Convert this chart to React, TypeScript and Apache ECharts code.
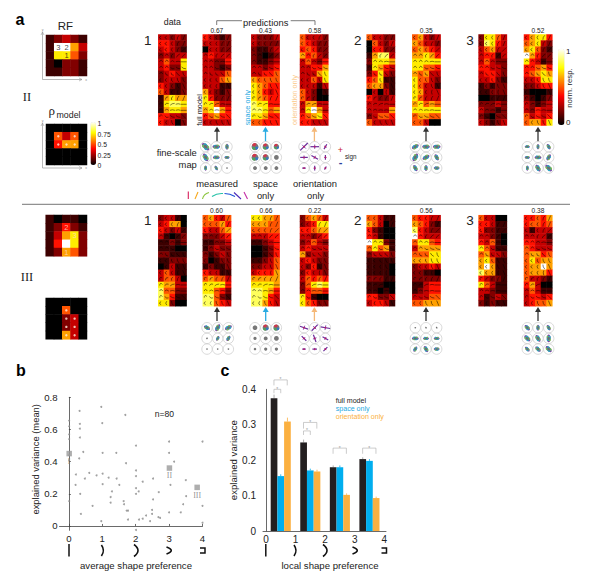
import React, { useEffect, useRef } from "react";
import * as echarts from "echarts";

// ---------- heat-map cell levels (digits 0-9; see levelValue)
const levelValue = [0, 0.09, 0.19, 0.29, 0.4, 0.5, 0.61, 0.72, 0.84, 1];
const rfII = ["12321", "19963", "17752", "10221", "11221"];
const rhoII = ["00000", "05350", "04660", "00000", "00000"];
const rfIII = ["10110", "12421", "13672", "14972", "12652"];
const rhoIII = ["00000", "00500", "00230", "00230", "00630"];

const II1data = ["33232", "44322", "34321", "23233", "35337", "34227", "23433", "23332", "43212", "53112", "16766", "17887", "16776", "44332", "43302"];
const II1full = ["43212", "33322", "03322", "34333", "33224", "33212", "33335", "33356", "33311", "63212", "74222", "77533", "67964", "45644", "33333"];
const II1space = ["32223", "32222", "21123", "21012", "21123", "33234", "33445", "65555", "76544", "76434", "76544", "87744", "88756", "77644", "55444"];
const II1orient = ["53332", "54322", "45422", "64532", "35324", "33446", "33367", "33537", "33313", "53201", "53200", "36633", "37963", "45674", "44333"];
const II2data = ["53322", "05323", "04422", "16883", "27776", "17643", "24732", "45711", "56621", "03031", "43223", "33333", "33336", "23554", "53333"];
const II2full = ["56323", "65332", "56543", "66764", "77777", "77554", "65633", "75532", "75331", "76333", "75333", "67565", "77777", "56655", "55300"];
const II3data = ["27753", "28743", "35633", "34413", "35322", "44332", "34432", "33421", "12122", "11222", "00111", "22232", "32212", "21022", "32123"];
const II3full = ["46774", "56732", "67521", "96422", "74312", "44564", "45676", "33477", "22344", "10001", "21012", "32123", "32433", "53434", "56647"];

const III1data = ["23310", "34660", "43231", "31012", "11212", "11100", "22111", "11222", "01311", "35311", "35530", "76633", "85522", "86411", "77200"];
const III1full = ["56435", "55564", "43356", "22234", "11223", "12322", "21232", "20122", "12112", "43311", "56553", "77774", "77542", "88521", "88543"];
const III1space = ["77665", "66655", "55555", "33344", "11234", "00124", "00124", "11235", "22335", "34446", "66666", "77776", "88764", "88743", "88643"];
const III1orient = ["25653", "23477", "44566", "33234", "23532", "34333", "62332", "34322", "32412", "24332", "35454", "25787", "24554", "74100", "75422"];
const III2data = ["55311", "65301", "42100", "43100", "97721", "57561", "23332", "11111", "11110", "11110", "22211", "11100", "11010", "44223", "34431"];
const III2full = ["54433", "65421", "84322", "94333", "57754", "36666", "55577", "66677", "23343", "22110", "22222", "11344", "12344", "33355", "55666"];
const III3data = ["53300", "44311", "42211", "33210", "43510", "75311", "56332", "67511", "69611", "86611", "43221", "75311", "33211", "31232", "21211"];
const III3full = ["44546", "45545", "31333", "33331", "44332", "54333", "56645", "57566", "56696", "56664", "53321", "46300", "35311", "34434", "34556"];

// ---------- stimulus glyphs shared by all the panels (chord angle in 22.5 degree steps, bend 0-3)
const stimAngle = ["44433", "44433", "54432", "00322", "00000", "00777", "06665", "44555", "44455", "44445", "22333", "11100", "00000", "17776", "44555"];
const stimBend = ["33210", "33210", "33210", "33211", "33210", "33211", "32211", "33211", "33210", "33210", "32210", "32110", "32110", "32110", "32110"];

// ---------- fine-scale maps: blob size and orientation per sub-unit
const fmII1m = [9, 7, 5, 8, 6, 4, 4, 4, 2];
const faII1m = [135, 0, 90, 120, 0, 0, 90, 120, 0];
const fmII1s = [7, 6, 5, 7, 6, 4, 3, 3, 3];
const fmII1o = [9, 7, 4, 6, 6, 3, 2, 3, 2];
const faII1o = [135, 0, 120, 0, 30, 90, 0, 90, 120];
const fmII2 = [7, 7, 7, 8, 7, 6, 6, 5, 5];
const faII2 = [30, 0, 0, 60, 30, 120, 120, 90, 0];
const fmII3 = [4, 4, 5, 4, 6, 6, 4, 7, 8];
const faII3 = [0, 90, 120, 0, 0, 60, 90, 120, 135];
const fmIII1m = [6, 7, 7, 3, 4, 5, 1, 2, 2];
const faIII1m = [150, 60, 30, 45, 60, 60, 0, 0, 0];
const fmIII1s = [4, 6, 6, 2, 3, 4, 1, 2, 2];
const fmIII1o = [7, 7, 8, 5, 6, 5, 2, 3, 4];
const faIII1o = [20, 135, 10, 45, 70, 30, 0, 0, 135];
const fmIII2 = [1, 3, 3, 6, 5, 5, 5, 6, 5];
const faIII2 = [0, 120, 135, 0, 0, 0, 60, 120, 0];
const fmIII3 = [6, 5, 5, 7, 7, 7, 5, 6, 7];
const faIII3 = [135, 90, 120, 135, 120, 90, 135, 135, 135];

// ---------- panel b
const scatterPoints = [
  [0.01, 0.655], [0.01, 0.62], [0.01, 0.57], [0.01, 0.54], [0.01, 0.44], [0.01, 0.41], [0.01, 0.155],
  [0.32, 0.715], [0.33, 0.635], [0.33, 0.605], [0.33, 0.55], [0.31, 0.42], [0.43, 0.46], [0.21, 0.32], [0.2, 0.255],
  [0.34, 0.2], [0.36, 0.075], [0.61, 0.33], [0.48, 0.295], [0.71, 0.125], [0.83, 0.315], [0.97, 0.74], [1.0, 0.64],
  [1.01, 0.455], [1.01, 0.325], [1.01, 0.26], [0.97, 0.03], [1.19, 0.3], [1.43, 0.295], [1.42, 0.455], [1.51, 0.255],
  [1.29, 0.215], [1.25, 0.18], [1.25, 0.145], [1.69, 0.69], [1.71, 0.39], [1.64, 0.155], [1.65, 0.135], [1.73, 0.095],
  [1.77, 0.095], [1.77, 0.04], [2.01, 0.5], [2.01, 0.345], [2.01, 0.31], [2.01, 0.235], [2.01, 0.2], [2.09, 0.215],
  [2.21, 0.275], [2.1, 0.04], [2.21, 0.045], [2.31, 0.065], [2.43, 0.03], [2.49, 0.075], [2.49, 0.1], [2.52, 0.165],
  [2.52, 0.295], [2.69, 0.21], [2.68, 0.055], [2.73, 0.05], [3.0, 0.525], [3.0, 0.455], [3.04, 0.255], [3.0, 0.085],
  [3.15, 0.4], [3.35, 0.085], [3.5, 0.285], [3.42, 0.135], [3.51, 0.185], [4.0, 0.525], [4.0, 0.125], [4.0, 0.02], [2.01, -0.025],
];
const meanPoints = [[0.01, 0.45], [3.01, 0.36], [3.84, 0.24]];
const meanLabels = ["I", "II", "III"];
const shapeTicks = [0, 1, 2, 3, 4];

// ---------- panel c
const barPositions = [0.5, 1.5, 2.5, 3.5];
const fullModel = [0.375, 0.25, 0.18, 0.203];
const spaceOnly = [0.155, 0.171, 0.18, 0.198];
const orientationOnly = [0.309, 0.168, 0.102, 0.093];
const fullErr = [0.385, 0.258, 0.185, 0.208];
const spaceErr = [0.16, 0.176, 0.185, 0.203];
const orientErr = [0.32, 0.173, 0.106, 0.097];
// x from, x to, y of the bar, y of the drop
const brackets = [
  [0.27, 0.72, 0.4265, 0.411],
  [0.27, 0.5, 0.4, 0.389],
  [1.27, 1.72, 0.3065, 0.289],
  [1.27, 1.5, 0.2825, 0.271],
  [2.27, 2.72, 0.234, 0.218],
  [3.27, 3.72, 0.234, 0.218],
];

const FONT = "'Liberation Sans', Arial, sans-serif";
const SERIF = "'Liberation Serif', 'Times New Roman', serif";
const hot = ["#000000", "#550000", "#aa0000", "#ff0000", "#ff5500", "#ffaa00", "#ffff00", "#ffff80", "#ffffff"];
const BLACK = "#231f20";
const BLUE = "#00aeef";
const ORANGE = "#fbb040";

function txt(x: number, y: number, text: string, fontSize: number, o: any = {}) {
  const a = o.align || "center";
  return {
    type: "text",
    x,
    y,
    rotation: o.rotation || 0,
    silent: true,
    style: {
      text,
      fontSize,
      fontFamily: o.family || FONT,
      fontWeight: o.weight || "normal",
      fill: o.fill || "#222",
      align: a,
      textAlign: a,
      verticalAlign: "middle",
      textVerticalAlign: "middle",
    },
  };
}
const seg = (x1: number, y1: number, x2: number, y2: number, stroke = "#555", lineWidth = 0.8) => ({
  type: "line",
  silent: true,
  shape: { x1, y1, x2, y2 },
  style: { stroke, lineWidth },
});
const poly = (points: number[][], stroke = "#555", lineWidth = 0.8) => ({
  type: "polyline",
  silent: true,
  shape: { points },
  style: { stroke, lineWidth, fill: "none" },
});
const curve = (x1: number, y1: number, x2: number, y2: number, cx: number, cy: number, stroke = "#111", lineWidth = 1.6) => ({
  type: "bezierCurve",
  silent: true,
  shape: { x1, y1, x2, y2, cpx1: cx, cpy1: cy },
  style: { stroke, lineWidth, fill: "none" },
});
function arrow(x: number, yTop: number, yBottom: number, color: string) {
  return [
    seg(x, yTop + 4, x, yBottom, color, 1.3),
    { type: "polygon", silent: true, shape: { points: [[x, yTop], [x - 3, yTop + 5], [x + 3, yTop + 5]] }, style: { fill: color } },
  ];
}
function shapeGlyphs(xs: number[]) {
  return [
    seg(xs[0], 544, xs[0], 556.5, "#111", 1.5),
    curve(xs[1] - 1, 545, xs[1] - 1, 556, xs[1] + 3, 550.5),
    curve(xs[2] - 2, 544.5, xs[2] - 2, 556.5, xs[2] + 6, 550.5),
    curve(xs[3] - 2.5, 547, xs[3] - 2.5, 554, xs[3] + 7, 550.5),
    poly([[xs[4] - 2.5, 548], [xs[4] + 2.5, 548], [xs[4] + 2.5, 553], [xs[4] - 2.5, 553]], "#111", 1.5),
  ];
}

const parse = (rows: string[]) => {
  const out: number[][] = [];
  rows.forEach((r, row) => r.split("").forEach((d, col) => out.push([col, row, levelValue[Number(d)]])));
  return out;
};

const panelLayout = {
  colX: [158.3, 202.8, 251.3, 300, 366.7, 412.3, 478.6, 524],
  II: { top: 34.5, h: 91 },
  III: { top: 215.2, h: 91 },
};

export default function App() {
  const ref = useRef<HTMLDivElement>(null);
  useEffect(() => {
    const chart = echarts.init(ref.current!, undefined, { renderer: "svg" });
    const grid: any[] = [];
    const xAxis: any[] = [];
    const yAxis: any[] = [];
    const series: any[] = [];
    const normIdx: number[] = [];
    const rhoIdx: number[] = [];

    const addGrid = (left: number, top: number, width: number, height: number, x: any, y: any) => {
      grid.push({ left, top, width, height, containLabel: false });
      xAxis.push({ gridIndex: grid.length - 1, ...x });
      yAxis.push({ gridIndex: grid.length - 1, ...y });
      return grid.length - 1;
    };

    const heat = (rows: string[], left: number, top: number, w: number, h: number, bucket: number[]) => {
      const nCols = rows[0].length;
      const cats = (n: number) => Array.from({ length: n }, (_, i) => i);
      const g = addGrid(left, top, w, h,
        { type: "category", data: cats(nCols), show: false },
        { type: "category", data: cats(rows.length), show: false, inverse: true });
      bucket.push(series.length);
      series.push({
        type: "heatmap",
        xAxisIndex: g,
        yAxisIndex: g,
        data: parse(rows),
        silent: true,
        itemStyle: { borderWidth: 0 },
      });
      return g;
    };

    const glyphData: number[][] = [];
    stimAngle.forEach((r, row) => r.split("").forEach((_, col) => glyphData.push([col, row])));
    const addGlyphs = (g: number) => {
      series.push({
        type: "custom",
        xAxisIndex: g,
        yAxisIndex: g,
        silent: true,
        data: glyphData,
        encode: { x: 0, y: 1 },
        renderItem: (_p: any, api: any) => {
          const col = api.value(0);
          const row = api.value(1);
          const c = api.coord([col, row]);
          const ang = (Number(stimAngle[row][col]) * 22.5 * Math.PI) / 180;
          const bend = Number(stimBend[row][col]);
          const len = 1.5 + (3 - bend) * 0.45;
          const dx = Math.cos(ang) * len;
          const dy = -Math.sin(ang) * len;
          const nx = Math.sin(ang) * bend * 1.1;
          const ny = Math.cos(ang) * bend * 1.1;
          return {
            type: "bezierCurve",
            shape: { x1: c[0] - dx, y1: c[1] - dy, x2: c[0] + dx, y2: c[1] + dy, cpx1: c[0] - nx, cpy1: c[1] - ny },
            style: { stroke: "#000", lineWidth: 0.5, fill: "none" },
          };
        },
      });
    };

    // ----- small RF / rho maps
    const gRFII = heat(rfII, 46, 35, 41, 41, normIdx);
    const gRhoII = heat(rhoII, 46, 124, 41, 41, rhoIdx);
    const gRFIII = heat(rfIII, 45.7, 215, 41.3, 41.3, normIdx);
    const gRhoIII = heat(rhoIII, 45.7, 298, 41.3, 41.3, normIdx);

    const overlay = (g: number, items: any[], fill: string) =>
      series.push({
        type: "scatter",
        xAxisIndex: g,
        yAxisIndex: g,
        silent: true,
        symbolSize: 0.01,
        data: items,
        label: { show: true, position: "inside", formatter: (p: any) => p.data[2], fontSize: 7.5, color: fill, fontFamily: FONT },
      });
    overlay(gRFII, [[1, 1, "3"], [2, 1, "2"], [2, 2, "1"]], "#111");
    overlay(gRFIII, [[2, 1, "2"], [3, 2, "3"], [2, 4, "1"]], "#ffd8c8");
    const dots = (g: number, items: number[][]) =>
      series.push({
        type: "scatter",
        xAxisIndex: g,
        yAxisIndex: g,
        silent: true,
        symbolSize: 2.4,
        itemStyle: { color: "#ffeedd" },
        data: items,
      });
    dots(gRhoII, [[1, 1], [3, 1], [1, 2], [2, 2], [3, 2]]);
    dots(gRhoIII, [[2, 1], [2, 2], [3, 2], [2, 3], [3, 3], [2, 4], [3, 4]]);

    // ----- main response panels
    const X = panelLayout.colX;
    const mainII: [string[], number][] = [
      [II1data, 0], [II1full, 1], [II1space, 2], [II1orient, 3], [II2data, 4], [II2full, 5], [II3data, 6], [II3full, 7],
    ];
    const mainIII: [string[], number][] = [
      [III1data, 0], [III1full, 1], [III1space, 2], [III1orient, 3], [III2data, 4], [III2full, 5], [III3data, 6], [III3full, 7],
    ];
    mainII.forEach(([rows, c]) => addGlyphs(heat(rows, X[c], panelLayout.II.top, 28.3, panelLayout.II.h, normIdx)));
    mainIII.forEach(([rows, c]) => addGlyphs(heat(rows, X[c], panelLayout.III.top, 28.3, panelLayout.III.h, normIdx)));

    // ----- fine-scale maps
    const fineMap = (cx0: number, cy0: number, sizes: number[], angles: number[] | null, kind: string) => {
      const step = 10.7;
      const g = addGrid(cx0 - step / 2, cy0 - step / 2, step * 3, step * 3,
        { type: "value", min: -0.5, max: 2.5, show: false },
        { type: "value", min: -0.5, max: 2.5, show: false, inverse: true });
      series.push({
        type: "custom",
        xAxisIndex: g,
        yAxisIndex: g,
        silent: true,
        clip: false,
        data: sizes.map((s, i) => [i % 3, Math.floor(i / 3), s, angles ? angles[i] : 0]),
        encode: { x: 0, y: 1 },
        renderItem: (_p: any, api: any) => {
          const c = api.coord([api.value(0), api.value(1)]);
          const s = api.value(2);
          const a = (api.value(3) * Math.PI) / 180;
          const kids: any[] = [
            { type: "circle", shape: { cx: c[0], cy: c[1], r: 5.2 }, style: { fill: "#fff", stroke: "#c8c8c8", lineWidth: 0.7 } },
          ];
          const ell = (rx: number, ry: number, fill: string, rot: number) => ({
            type: "ellipse",
            x: c[0],
            y: c[1],
            rotation: rot,
            shape: { cx: 0, cy: 0, rx, ry },
            style: { fill },
          });
          if (kind === "m") {
            const rx = 0.9 + s * 0.42;
            if (s > 3) {
              kids.push(ell(rx, rx * 0.5, "#7b4aa8", a));
              kids.push(ell(rx * 0.8, rx * 0.42, "#7fbf4a", a + 0.55));
              kids.push(ell(rx * 0.75, rx * 0.42, "#28a7c4", a - 0.55));
            }
            kids.push(ell(Math.max(0.9, rx * 0.45), Math.max(0.8, rx * 0.32), "#6d6d6d", a));
          } else if (kind === "s") {
            const r = 0.9 + s * 0.36;
            kids.push({ type: "circle", shape: { cx: c[0], cy: c[1], r }, style: { fill: "#777" } });
            if (s >= 5) {
              kids.push({ type: "sector", shape: { cx: c[0], cy: c[1], r, startAngle: 3.6, endAngle: 5.2 }, style: { fill: "#d3364a" } });
              kids.push({ type: "sector", shape: { cx: c[0], cy: c[1], r, startAngle: 0, endAngle: 1.2 }, style: { fill: "#2f79c9" } });
              kids.push({ type: "sector", shape: { cx: c[0], cy: c[1], r, startAngle: 1.6, endAngle: 2.8 }, style: { fill: "#4aa75a" } });
            }
          } else {
            const l = 0.8 + s * 0.5;
            const dx = Math.cos(a) * l;
            const dy = Math.sin(a) * l;
            kids.push({ type: "line", shape: { x1: c[0] - dx, y1: c[1] - dy, x2: c[0] + dx, y2: c[1] + dy }, style: { stroke: "#6a2c9c", lineWidth: 1.2 } });
            kids.push({ type: "line", shape: { x1: c[0] + dy * 0.5, y1: c[1] - dx * 0.5, x2: c[0] - dy * 0.5, y2: c[1] + dx * 0.5 }, style: { stroke: "#7b3fb0", lineWidth: 0.9 } });
            kids.push({ type: "circle", shape: { cx: c[0], cy: c[1], r: 0.8 }, style: { fill: "#c2185b" } });
          }
          return { type: "group", children: kids };
        },
      });
    };
    fineMap(205.6, 146.7, fmII1m, faII1m, "m");
    fineMap(255, 146.7, fmII1s, null, "s");
    fineMap(304, 146.7, fmII1o, faII1o, "o");
    fineMap(415.3, 146.7, fmII2, faII2, "m");
    fineMap(527.3, 146.7, fmII3, faII3, "m");
    fineMap(207, 327.7, fmIII1m, faIII1m, "m");
    fineMap(255, 327.7, fmIII1s, null, "s");
    fineMap(304, 327.7, fmIII1o, faIII1o, "o");
    fineMap(415.3, 327.7, fmIII2, faIII2, "m");
    fineMap(527.3, 327.7, fmIII3, faIII3, "m");

    // ----- panel b
    const axisCommon = {
      axisLine: { show: true, lineStyle: { color: "#444", width: 0.8 } },
      axisTick: { show: true, inside: true, length: 2, lineStyle: { color: "#444", width: 0.8 } },
      splitLine: { show: false },
    };
    const gB = addGrid(59.5, 397.3, 143, 133,
      {
        type: "value", min: -0.28, max: 4, ...axisCommon,
        axisTick: { ...axisCommon.axisTick, customValues: shapeTicks },
        axisLabel: { customValues: shapeTicks, fontSize: 9.6, color: "#222", margin: 3, fontFamily: FONT, showMinLabel: true, showMaxLabel: true },
        name: "average shape preference", nameLocation: "middle", nameGap: 30, nameTextStyle: { fontSize: 9.6, color: "#222", fontFamily: FONT, padding: [0, 0, 0, 10] },
      },
      {
        type: "value", min: -0.027, max: 0.8, ...axisCommon,
        axisTick: { ...axisCommon.axisTick, customValues: [0, 0.2, 0.4, 0.6, 0.8] },
        axisLabel: { customValues: [0, 0.2, 0.4, 0.6, 0.8], formatter: (v: number) => (v === 0 ? "0" : v.toFixed(1)), fontSize: 9.6, color: "#222", margin: 2, fontFamily: FONT },
        name: "explained variance (mean)", nameLocation: "middle", nameGap: 20, nameTextStyle: { fontSize: 9.4, color: "#222", fontFamily: FONT, padding: [0, 0, 0, 9] },
      });
    series.push({ type: "scatter", xAxisIndex: gB, yAxisIndex: gB, silent: true, symbolSize: 2, itemStyle: { color: "#8a8a8a" }, data: scatterPoints, clip: false });
    series.push({
      type: "scatter", xAxisIndex: gB, yAxisIndex: gB, silent: true, symbol: "rect", symbolSize: 5.5, itemStyle: { color: "#9a9a9a" },
      data: meanPoints.map((p, i) => ({ value: p, name: meanLabels[i] })),
      label: { show: true, position: "bottom", distance: 1, formatter: (p: any) => p.name, fontSize: 8, color: "#777", fontFamily: SERIF },
    });

    // ----- panel c
    const gC = addGrid(263, 389.3, 123, 141.7,
      {
        type: "value", min: -0.1, max: 4.06, ...axisCommon,
        axisTick: { show: false },
        axisLabel: { customValues: shapeTicks, fontSize: 10, color: "#222", margin: 3, fontFamily: FONT },
        name: "local shape preference", nameLocation: "middle", nameGap: 29, nameTextStyle: { fontSize: 9.6, color: "#222", fontFamily: FONT, padding: [0, 0, 0, 11] },
      },
      {
        type: "value", min: 0, max: 0.4, interval: 0.1, offset: 6, ...axisCommon,
        axisTick: { show: false },
        axisLabel: { formatter: (v: number) => (v === 0 ? "0" : v.toFixed(1)), fontSize: 10, color: "#222", margin: 1, fontFamily: FONT },
        name: "explained variance", nameLocation: "middle", nameGap: 17, nameTextStyle: { fontSize: 9.6, color: "#222", fontFamily: FONT },
      });
    const barSeries = (vals: number[], color: string) => ({
      type: "bar", xAxisIndex: gC, yAxisIndex: gC, silent: true, barWidth: 6.7, barGap: "0%",
      itemStyle: { color }, data: barPositions.map((x, i) => [x, vals[i]]),
    });
    series.push(barSeries(fullModel, BLACK), barSeries(spaceOnly, BLUE), barSeries(orientationOnly, ORANGE));
    const errSeries = (tops: number[], vals: number[], color: string, shift: number) => ({
      type: "custom", xAxisIndex: gC, yAxisIndex: gC, silent: true, clip: false,
      data: barPositions.map((x, i) => [x, vals[i], tops[i]]),
      encode: { x: 0, y: 1 },
      renderItem: (_p: any, api: any) => {
        const a = api.coord([api.value(0), api.value(1)]);
        const b = api.coord([api.value(0), api.value(2)]);
        return { type: "line", shape: { x1: a[0] + shift, y1: a[1], x2: a[0] + shift, y2: b[1] }, style: { stroke: color, lineWidth: 0.8 } };
      },
    });
    series.push(errSeries(fullErr, fullModel, "#999", -6.7), errSeries(spaceErr, spaceOnly, BLUE, 0), errSeries(orientErr, orientationOnly, ORANGE, 6.7));
    series.push({
      type: "custom", xAxisIndex: gC, yAxisIndex: gC, silent: true, clip: false,
      data: brackets,
      encode: { x: [0, 1], y: [2, 3] },
      renderItem: (_p: any, api: any) => {
        const l = api.coord([api.value(0), api.value(2)]);
        const r = api.coord([api.value(1), api.value(2)]);
        const d = api.coord([api.value(0), api.value(3)]);
        return {
          type: "group",
          children: [
            { type: "polyline", shape: { points: [[l[0], d[1]], [l[0], l[1]], [r[0], l[1]], [r[0], d[1]]] }, style: { stroke: "#aaa", lineWidth: 0.6, fill: "none" } },
            { type: "text", x: (l[0] + r[0]) / 2, y: l[1] - 0.5, style: { text: "*", fontSize: 5, fill: "#999", align: "center", textAlign: "center", verticalAlign: "middle", textVerticalAlign: "middle", fontFamily: FONT } },
          ],
        };
      },
    });

    // ----- free texts and decoration
    const graphic: any[] = [
      txt(20, 19, "a", 16, { weight: "bold", fill: "#000" }),
      txt(21, 370, "b", 16, { weight: "bold", fill: "#000" }),
      txt(225, 370, "c", 16, { weight: "bold", fill: "#000" }),
      txt(65.3, 25.5, "RF", 11.5),
      txt(27, 96.7, "II", 12.5, { family: SERIF }),
      txt(27, 276.7, "III", 12.5, { family: SERIF }),
      txt(51.7, 110, "ρ", 13, { family: SERIF }),
      txt(68.5, 114.5, "model", 8.8),
      // RF axes
      poly([[42.5, 32], [42.5, 79.5], [82, 79.5]], "#999", 0.7),
      poly([[41, 35], [42.5, 32], [44, 35]], "#999", 0.6),
      poly([[79, 78], [82, 79.5], [79, 81]], "#999", 0.6),
      txt(86, 79.5, "x", 3.5, { fill: "#888" }),
      txt(42.5, 29.5, "y", 3.5, { fill: "#888" }),
      poly([[42.5, 123], [42.5, 168], [82, 168]], "#999", 0.7),
      poly([[41, 126], [42.5, 123], [44, 126]], "#999", 0.6),
      poly([[79, 166.5], [82, 168], [79, 169.5]], "#999", 0.6),
      txt(86, 168, "x", 3.5, { fill: "#888" }),
      txt(42.5, 120.7, "y", 3.5, { fill: "#888" }),
      // colour bar labels
      ...[["1", 123.5], ["0.75", 134], ["0.5", 144.7], ["0.25", 155], ["0", 165]].map(([s, y]) => txt(97.5, y as number, s as string, 6.8, { align: "left" })),
      txt(566, 51, "1", 8, { align: "left" }),
      txt(566, 122, "0", 8, { align: "left" }),
      txt(569.5, 88, "norm. resp.", 7.8, { rotation: Math.PI / 2 }),
      // heads
      txt(172.4, 22, "data", 8.8),
      txt(265.7, 22, "predictions", 9.4),
      poly([[216.7, 25], [216.7, 20.7], [242, 20.7]], "#444", 0.7),
      poly([[290.7, 20.7], [315, 20.7], [315, 25]], "#444", 0.7),
      ...[["0.67", 216.8], ["0.43", 265.5], ["0.58", 314.7], ["0.35", 426.2], ["0.52", 538]].map(([s, x]) => txt(x as number, 30.5, s as string, 6.6)),
      ...[["0.60", 216.4], ["0.66", 266], ["0.22", 314.7], ["0.56", 426.2], ["0.38", 538]].map(([s, x]) => txt(x as number, 210.7, s as string, 6.6)),
      ...[["1", 147.7], ["2", 357.7], ["3", 470]].flatMap(([s, x]) => [txt(x as number, 40.5, s as string, 13.5), txt(x as number, 220.7, s as string, 13.5)]),
      txt(199, 110, "full model", 7.4, { rotation: Math.PI / 2 }),
      txt(247, 107.7, "space only", 7.4, { rotation: Math.PI / 2, fill: "#29abe2" }),
      txt(294.7, 100, "orientation only", 7.4, { rotation: Math.PI / 2, fill: "#fbc98a" }),
      ...arrow(217, 126.7, 141.5, "#333"),
      ...arrow(265.5, 126.7, 141.5, "#29abe2"),
      ...arrow(314.4, 126.7, 141.5, "#f5b878"),
      ...arrow(426, 126.7, 141.5, "#333"),
      ...arrow(538, 126.7, 141.5, "#333"),
      ...arrow(217, 307, 321, "#333"),
      ...arrow(265.7, 307, 321, "#29abe2"),
      ...arrow(314.4, 307, 321, "#f5b878"),
      ...arrow(426, 307, 321, "#333"),
      ...arrow(538, 307, 321, "#333"),
      txt(176.7, 152, "fine-scale", 9.4),
      txt(187.7, 164, "map", 9.4),
      txt(217, 183, "measured", 9.4),
      txt(265.5, 183, "space", 9.4),
      txt(265.5, 195, "only", 9.4),
      txt(315, 183, "orientation", 9.4),
      txt(315.7, 195, "only", 9.4),
      txt(340.4, 150, "+", 9, { fill: "#c8202f" }),
      txt(340.6, 162, "-", 11, { fill: "#2b3f9e", weight: "bold" }),
      txt(350.7, 156, "sign", 6.3),
      // orientation colour key
      seg(188.3, 191.5, 188.3, 199, "#d81e5b", 1.1),
      seg(195, 199, 198, 192, "#f7a81b", 1.1),
      curve(202.5, 199, 209, 192.5, 203.5, 194, "#8cc63f", 1.1),
      curve(212, 196.5, 223, 193.5, 217, 193, "#27c2a8", 1.1),
      curve(224.5, 193.5, 235, 196.5, 230, 193.5, "#1b4fd8", 1.1),
      seg(234, 192.5, 241, 199, "#4b2bb8", 1.1),
      seg(244, 192, 247.5, 199, "#c42ea6", 1.1),
      seg(22, 204.3, 570, 204.3, "#666", 0.9),
      txt(164.3, 414, "n=80", 8.6),
      txt(335.7, 400.7, "full model", 7.1, { align: "left", fill: "#222" }),
      txt(335.7, 408.7, "space only", 7.1, { align: "left", fill: "#29abe2" }),
      txt(335.7, 416.7, "orientation only", 7.1, { align: "left", fill: ORANGE }),
      ...shapeGlyphs([69, 102.4, 136, 169, 202.5]),
      ...shapeGlyphs([265.8, 295, 325, 355, 384]),
    ];

    chart.setOption({
      animation: false,
      backgroundColor: "#fff",
      textStyle: { fontFamily: FONT },
      grid,
      xAxis,
      yAxis,
      series,
      graphic,
      visualMap: [
        {
          type: "continuous", min: 0, max: 1, dimension: 2, seriesIndex: normIdx, calculable: false, hoverLink: false,
          inRange: { color: hot }, left: 558, top: 48.7, itemWidth: 6.5, itemHeight: 76.3, padding: 0, text: ["", ""], textGap: 0, orient: "vertical",
        },
        {
          type: "continuous", min: 0, max: 1, dimension: 2, seriesIndex: rhoIdx, calculable: false, hoverLink: false,
          inRange: { color: hot }, left: 90.5, top: 122, itemWidth: 5.5, itemHeight: 43, padding: 0, text: ["", ""], textGap: 0, orient: "vertical",
        },
      ],
    });
    return () => chart.dispose();
  }, []);
  return <div ref={ref} style={{ position: "fixed", left: 0, top: 0, width: 600, height: 585, background: "#fff" }} />;
}
